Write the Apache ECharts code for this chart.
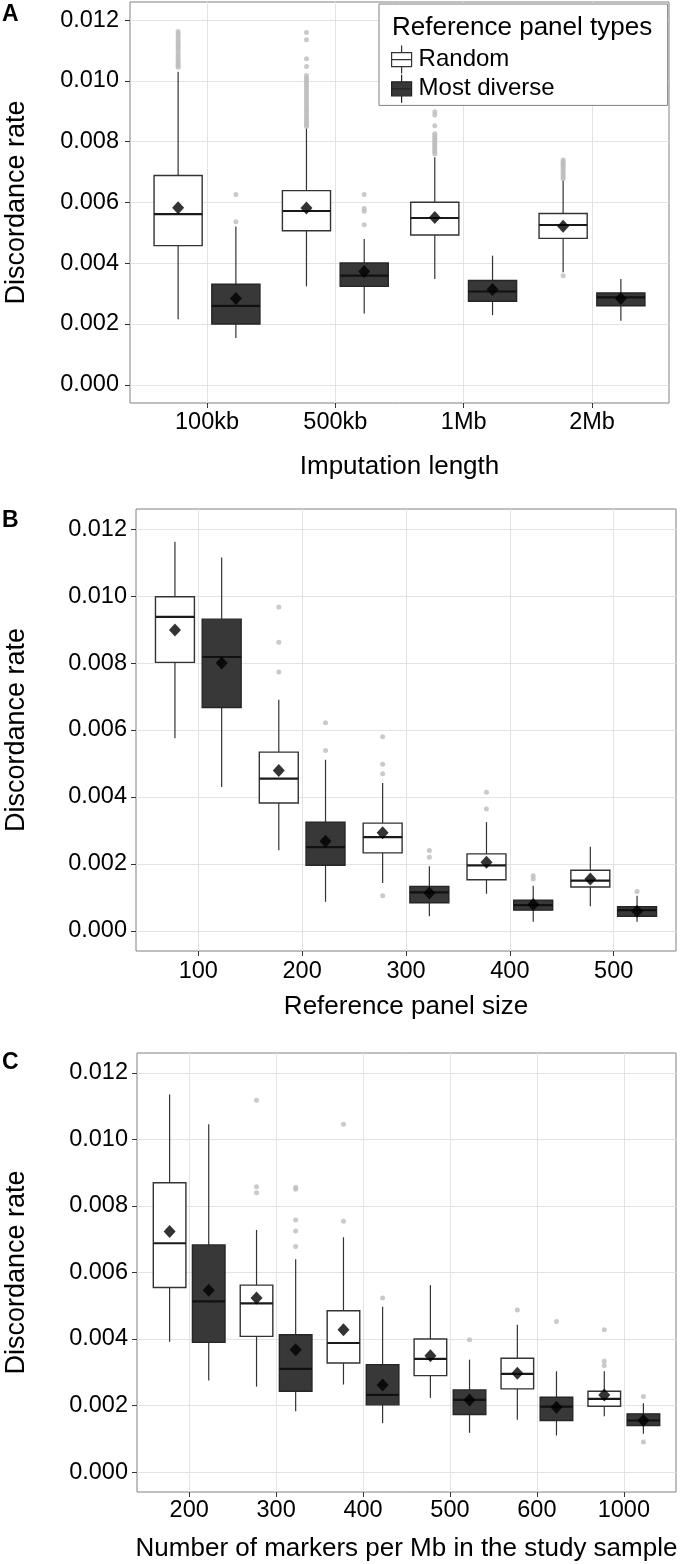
<!DOCTYPE html>
<html>
<head>
<meta charset="utf-8">
<script src="https://cdn.jsdelivr.net/npm/echarts@6/dist/echarts.min.js"></script>
<style>
html,body{margin:0;padding:0;background:#fff;}
#chart{width:680px;height:1564px;}
</style>
</head>
<body>
<div id="chart"></div>
<script>
// ---------------- data ----------------
const yTicks = [0, 0.002, 0.004, 0.006, 0.008, 0.010, 0.012];

// Panel A : imputation length
const catsA = ['100kb', '500kb', '1Mb', '2Mb'];
// [min(whisker), q1, median, q3, max(whisker)]
const randomBoxA = [
  [0.00216, 0.00458, 0.00562, 0.00689, 0.01030],
  [0.00324, 0.00507, 0.00572, 0.00639, 0.00843],
  [0.00348, 0.00493, 0.00549, 0.00601, 0.00749],
  [0.00370, 0.00482, 0.00526, 0.00564, 0.00672]
];
const randomMeanA = [0.00583, 0.00582, 0.00551, 0.00522];
const randomOutA = [
  [0.01045, 0.01050, 0.01056, 0.01062, 0.01068, 0.01075, 0.01082, 0.01090, 0.01098, 0.01105, 0.01112, 0.01118, 0.01125, 0.01132, 0.01140, 0.01148, 0.01156, 0.01163],
  [0.00850, 0.00856, 0.00862, 0.00868, 0.00875, 0.00882, 0.00890, 0.00898, 0.00905, 0.00912, 0.00920, 0.00928, 0.00935, 0.00942, 0.00950, 0.00958, 0.00965, 0.00972, 0.00980, 0.00988, 0.00995, 0.01002, 0.01010, 0.01018, 0.01048, 0.01073, 0.01136, 0.01160],
  [0.00760, 0.00766, 0.00772, 0.00778, 0.00784, 0.00790, 0.00796, 0.00802, 0.00808, 0.00814, 0.00820, 0.00826, 0.00853, 0.00888, 0.00899],
  [0.00359, 0.00678, 0.00684, 0.00690, 0.00696, 0.00702, 0.00708, 0.00714, 0.00720, 0.00725, 0.00730, 0.00735, 0.00740]
];
const diverseBoxA = [
  [0.00154, 0.00200, 0.00260, 0.00331, 0.00521],
  [0.00235, 0.00324, 0.00359, 0.00401, 0.00480],
  [0.00229, 0.00275, 0.00307, 0.00343, 0.00425],
  [0.00211, 0.00260, 0.00288, 0.00302, 0.00348]
];
const diverseMeanA = [0.00284, 0.00373, 0.00314, 0.00284];
const diverseOutA = [
  [0.00537, 0.00626],
  [0.00527, 0.00571, 0.00580, 0.00626],
  [],
  []
];

// Panel B : reference panel size
const catsB = ['100', '200', '300', '400', '500'];
const randomBoxB = [
  [0.00575, 0.00802, 0.00938, 0.00998, 0.01162],
  [0.00241, 0.00382, 0.00455, 0.00534, 0.00690],
  [0.00143, 0.00233, 0.00280, 0.00322, 0.00442],
  [0.00111, 0.00153, 0.00196, 0.00230, 0.00325],
  [0.00074, 0.00131, 0.00150, 0.00181, 0.00251]
];
const randomMeanB = [0.00899, 0.00479, 0.00293, 0.00205, 0.00155];
const randomOutB = [
  [],
  [0.00773, 0.00862, 0.00967],
  [0.00105, 0.00469, 0.00498, 0.00580],
  [0.00364, 0.00414],
  []
];
const diverseBoxB = [
  [0.00430, 0.00667, 0.00818, 0.00931, 0.01115],
  [0.00087, 0.00196, 0.00250, 0.00325, 0.00511],
  [0.00044, 0.00084, 0.00115, 0.00133, 0.00193],
  [0.00027, 0.00062, 0.00077, 0.00092, 0.00135],
  [0.00027, 0.00044, 0.00062, 0.00072, 0.00105]
];
const diverseMeanB = [0.00800, 0.00268, 0.00113, 0.00079, 0.00059];
const diverseOutB = [
  [],
  [0.00539, 0.00622],
  [0.00220, 0.00240],
  [0.00155, 0.00165],
  [0.00118]
];

// Panel C : markers per Mb
const catsC = ['200', '300', '400', '500', '600', '1000'];
const randomBoxC = [
  [0.00392, 0.00555, 0.00688, 0.00870, 0.01135],
  [0.00257, 0.00408, 0.00507, 0.00562, 0.00728],
  [0.00263, 0.00328, 0.00388, 0.00485, 0.00706],
  [0.00223, 0.00290, 0.00340, 0.00400, 0.00562],
  [0.00157, 0.00250, 0.00295, 0.00342, 0.00443],
  [0.00168, 0.00198, 0.00220, 0.00243, 0.00303]
];
const randomMeanC = [0.00723, 0.00523, 0.00428, 0.00350, 0.00297, 0.00232];
const randomOutC = [
  [],
  [0.00840, 0.00858, 0.01118],
  [0.00754, 0.01046],
  [],
  [0.00487],
  [0.00320, 0.00333, 0.00428]
];
const diverseBoxC = [
  [0.00275, 0.00390, 0.00513, 0.00683, 0.01046],
  [0.00183, 0.00243, 0.00310, 0.00413, 0.00640],
  [0.00147, 0.00202, 0.00232, 0.00323, 0.00497],
  [0.00118, 0.00173, 0.00217, 0.00247, 0.00338],
  [0.00110, 0.00155, 0.00197, 0.00225, 0.00303],
  [0.00115, 0.00140, 0.00155, 0.00175, 0.00207]
];
const diverseMeanC = [0.00547, 0.00368, 0.00262, 0.00217, 0.00195, 0.00155];
const diverseOutC = [
  [],
  [0.00678, 0.00725, 0.00758, 0.00850, 0.00856],
  [0.00523],
  [0.00398],
  [0.00453],
  [0.00090, 0.00227]
];

// ---------------- styling / layout ----------------
const FONT = 'Liberation Sans, Arial, Helvetica, sans-serif';
const DODGE = 0.225;     // dodge offset in category units
const BOX_W = 0.375;     // box width in category units
const TICK_FS = 23.5;
const TITLE_FS = 26;

const panels = [
  { cats: catsA, rb: randomBoxA, rm: randomMeanA, ro: randomOutA, db: diverseBoxA, dm: diverseMeanA, dout: diverseOutA,
    xTitle: 'Imputation length', grid: { left: 130, top: 2, width: 539, height: 401 }, xNameGap: 51, yNameGap: 100, xLabelMargin: 8, yLabelMargin: 11 },
  { cats: catsB, rb: randomBoxB, rm: randomMeanB, ro: randomOutB, db: diverseBoxB, dm: diverseMeanB, dout: diverseOutB,
    xTitle: 'Reference panel size', grid: { left: 136, top: 509, width: 540, height: 442 }, xNameGap: 43, yNameGap: 106, xLabelMargin: 9, yLabelMargin: 9 },
  { cats: catsC, rb: randomBoxC, rm: randomMeanC, ro: randomOutC, db: diverseBoxC, dm: diverseMeanC, dout: diverseOutC,
    xTitle: 'Number of markers per Mb in the study sample', grid: { left: 137, top: 1053, width: 539, height: 439 }, xNameGap: 44, yNameGap: 107, xLabelMargin: 7, yLabelMargin: 9 }
];

function boxRenderer(off, fill, stroke, medColor) {
  return function (params, api) {
    const x = api.value(0) + off;
    const lo = api.coord([x, api.value(1)]);
    const q1 = api.coord([x, api.value(2)]);
    const md = api.coord([x, api.value(3)]);
    const q3 = api.coord([x, api.value(4)]);
    const hi = api.coord([x, api.value(5)]);
    const half = api.size([BOX_W, 0])[0] / 2;
    return {
      type: 'group',
      children: [
        { type: 'line', shape: { x1: lo[0], y1: lo[1], x2: q1[0], y2: q1[1] }, style: { stroke: '#333', lineWidth: 1.2 } },
        { type: 'line', shape: { x1: q3[0], y1: q3[1], x2: hi[0], y2: hi[1] }, style: { stroke: '#333', lineWidth: 1.2 } },
        { type: 'rect', shape: { x: q3[0] - half, y: q3[1], width: half * 2, height: q1[1] - q3[1] },
          style: { fill: fill, stroke: stroke, lineWidth: 1.4 } },
        { type: 'line', shape: { x1: md[0] - half, y1: md[1], x2: md[0] + half, y2: md[1] },
          style: { stroke: medColor, lineWidth: 2.2 } }
      ]
    };
  };
}

const grids = [], xAxes = [], yAxes = [], series = [];

panels.forEach(function (p, idx) {
  grids.push(Object.assign({
    show: true, borderColor: '#808080', borderWidth: 1, backgroundColor: 'transparent',
    containLabel: false, outerBoundsMode: 'none'
  }, p.grid));

  const catIdx = p.cats.map(function (_, i) { return i; });
  xAxes.push({
    gridIndex: idx, type: 'value', min: -0.6, max: p.cats.length - 1 + 0.6,
    axisLine: { show: false, onZero: false },
    axisTick: { show: true, customValues: catIdx, length: 5, lineStyle: { color: '#333', width: 1 } },
    axisLabel: { show: true, customValues: catIdx, margin: p.xLabelMargin,
      formatter: function (v) { return p.cats[Math.round(v)]; },
      fontSize: TICK_FS, color: '#000', fontFamily: FONT },
    splitLine: { show: true, lineStyle: { color: '#e3e3e3', width: 1 } },
    name: p.xTitle, nameLocation: 'middle', nameGap: p.xNameGap,
    nameTextStyle: { fontSize: TITLE_FS, color: '#000', fontFamily: FONT }
  });
  yAxes.push({
    gridIndex: idx, type: 'value', min: -0.0006, max: 0.0126,
    axisLine: { show: false, onZero: false },
    axisTick: { show: true, customValues: yTicks, length: 5, lineStyle: { color: '#333', width: 1 } },
    axisLabel: { show: true, customValues: yTicks, margin: p.yLabelMargin,
      formatter: function (v) { return v.toFixed(3); },
      fontSize: TICK_FS, color: '#000', fontFamily: FONT },
    splitLine: { show: true, lineStyle: { color: '#e3e3e3', width: 1 } },
    name: 'Discordance rate', nameLocation: 'middle', nameGap: p.yNameGap, nameRotate: 90,
    nameTextStyle: { fontSize: 27, color: '#000', fontFamily: FONT }
  });

  const boxData = function (arr) { return arr.map(function (b, i) { return [i].concat(b); }); };
  const outData = function (arr, off) {
    const out = [];
    arr.forEach(function (vals, i) { vals.forEach(function (v) { out.push([i + off, v]); }); });
    return out;
  };
  const meanData = function (arr, off) { return arr.map(function (v, i) { return [i + off, v]; }); };

  series.push({
    type: 'custom', name: 'Random', xAxisIndex: idx, yAxisIndex: idx, z: 2,
    renderItem: boxRenderer(-DODGE, '#ffffff', '#333333', '#1a1a1a'),
    encode: { x: 0, y: [1, 2, 3, 4, 5] },
    itemStyle: { color: '#ffffff', borderColor: '#333' },
    data: boxData(p.rb)
  });
  series.push({
    type: 'custom', name: 'Most diverse', xAxisIndex: idx, yAxisIndex: idx, z: 2,
    renderItem: boxRenderer(DODGE, '#383838', '#262626', '#111111'),
    encode: { x: 0, y: [1, 2, 3, 4, 5] },
    itemStyle: { color: '#383838', borderColor: '#222' },
    data: boxData(p.db)
  });
  series.push({
    type: 'scatter', name: 'outliers random', xAxisIndex: idx, yAxisIndex: idx, z: 1,
    symbol: 'circle', symbolSize: 5, itemStyle: { color: '#bdbdbd' },
    data: outData(p.ro, -DODGE)
  });
  series.push({
    type: 'scatter', name: 'outliers diverse', xAxisIndex: idx, yAxisIndex: idx, z: 1,
    symbol: 'circle', symbolSize: 5, itemStyle: { color: '#bdbdbd' },
    data: outData(p.dout, DODGE)
  });
  series.push({
    type: 'scatter', name: 'mean random', xAxisIndex: idx, yAxisIndex: idx, z: 4,
    symbol: 'diamond', symbolSize: [12, 13], itemStyle: { color: '#000' },
    data: meanData(p.rm, -DODGE)
  });
  series.push({
    type: 'scatter', name: 'mean diverse', xAxisIndex: idx, yAxisIndex: idx, z: 4,
    symbol: 'diamond', symbolSize: [12, 13], itemStyle: { color: '#000' },
    data: meanData(p.dm, DODGE)
  });
});

const boxIcon = 'path://M10,0L10,7M0,7L20,7L20,21L0,21ZM0,14L20,14M10,21L10,28';

const option = {
  animation: false,
  backgroundColor: '#ffffff',
  textStyle: { fontFamily: FONT },
  title: [
    { text: 'A', left: 2, top: 3, padding: 0, textStyle: { fontSize: 23, fontWeight: 'bold', color: '#000', fontFamily: FONT } },
    { text: 'B', left: 2, top: 509, padding: 0, textStyle: { fontSize: 23, fontWeight: 'bold', color: '#000', fontFamily: FONT } },
    { text: 'C', left: 2, top: 1051, padding: 0, textStyle: { fontSize: 23, fontWeight: 'bold', color: '#000', fontFamily: FONT } },
    { text: 'Reference panel types', left: 392, top: 13, padding: 0, z: 10,
      textStyle: { fontSize: 26, fontWeight: 'normal', color: '#000', fontFamily: FONT, lineHeight: 30 } }
  ],
  legend: {
    left: 379, top: 4, orient: 'vertical',
    padding: [41, 113, 2, 12],
    itemGap: 0, itemWidth: 24, itemHeight: 28,
    borderColor: '#808080', borderWidth: 1, backgroundColor: '#ffffff',
    selectedMode: false,
    textStyle: { fontSize: 24, color: '#000', fontFamily: FONT, lineHeight: 28 },
    data: [
      { name: 'Random', icon: boxIcon, itemStyle: { color: '#ffffff', borderColor: '#333', borderWidth: 1.2 } },
      { name: 'Most diverse', icon: boxIcon, itemStyle: { color: '#383838', borderColor: '#222', borderWidth: 1.2 } }
    ]
  },
  grid: grids,
  xAxis: xAxes,
  yAxis: yAxes,
  series: series
};

const chart = echarts.init(document.getElementById('chart'), null, { renderer: 'canvas' });
chart.setOption(option);
</script>
</body>
</html>
